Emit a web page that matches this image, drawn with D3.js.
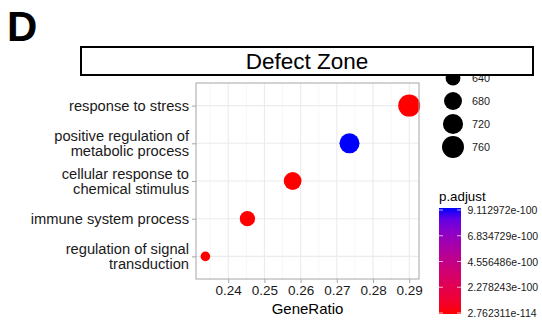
<!DOCTYPE html>
<html>
<head>
<meta charset="utf-8">
<script src="https://cdn.jsdelivr.net/npm/d3@7"></script>
<style>
  body { margin: 0; background: #fff; }
  svg { font-family: "Liberation Sans", Arial, sans-serif; }
</style>
</head>
<body>
<svg id="chart"></svg>
<script>
// GO terms, bottom to top as drawn
let terms = [
    "regulation of signal\ntransduction",
    "immune system process",
    "cellular response to\nchemical stimulus",
    "positive regulation of\nmetabolic process",
    "response to stress"
];
let geneRatio = [0.2337, 0.2453, 0.2578, 0.2735, 0.2900];
let counts = [613, 644, 677, 718, 761];
let pAdjust = [2.762311e-114, 4.1e-112, 1.3e-110, 9.112972e-100, 6.5e-113];

let xTicks = [0.24, 0.25, 0.26, 0.27, 0.28, 0.29];
let sizeBreaks = [640, 680, 720, 760];
let colorBreaks = [9.112972e-100, 6.834729e-100, 4.556486e-100, 2.278243e-100, 2.762311e-114];

let W = 542, H = 321;
let panel = {left: 196, right: 419, top: 83, bottom: 279};

let svg = d3.select("#chart")
    .attr("width", W)
    .attr("height", H);

let x = d3.scaleLinear()
    .domain([0.2311, 0.2927])
    .range([panel.left, panel.right]);

let y = d3.scalePoint()
    .domain(terms)
    .range([panel.bottom, panel.top])
    .padding(0.6);

let pMin = d3.min(pAdjust), pMax = d3.max(pAdjust);
let color = d3.scaleLinear()
    .domain([pMin, pMax])
    .range(["#ff0000", "#0000ff"])
    .interpolate(d3.interpolateLab);

// ggplot-style area scale: radius grows with sqrt of rescaled count
let cMin = d3.min(counts), cMax = d3.max(counts);
let rescale = d3.scaleLinear().domain([cMin, cMax]).range([0, 1]).clamp(true);
let radius = d3.scaleLinear().domain([0, 1]).range([4.8, 11]);
function r(c) { return radius(Math.sqrt(rescale(c))); }

// panel grid
let minorTicks = d3.range(0.235, 0.2927, 0.01);
svg.append("g").selectAll("line")
    .data(minorTicks)
    .enter().append("line")
    .attr("x1", d => x(d)).attr("x2", d => x(d))
    .attr("y1", panel.top).attr("y2", panel.bottom)
    .attr("stroke", "#f2f2f2").attr("stroke-width", 0.6);
svg.append("g").selectAll("line")
    .data(xTicks)
    .enter().append("line")
    .attr("x1", d => x(d)).attr("x2", d => x(d))
    .attr("y1", panel.top).attr("y2", panel.bottom)
    .attr("stroke", "#ebebeb").attr("stroke-width", 1.1);
svg.append("g").selectAll("line")
    .data(terms)
    .enter().append("line")
    .attr("x1", panel.left).attr("x2", panel.right)
    .attr("y1", d => y(d)).attr("y2", d => y(d))
    .attr("stroke", "#ebebeb").attr("stroke-width", 1.1);

// points
svg.append("g").selectAll("circle")
    .data(terms.map((t, i) => ({term: t, ratio: geneRatio[i], count: counts[i], p: pAdjust[i]})))
    .enter().append("circle")
    .attr("cx", d => x(d.ratio))
    .attr("cy", d => y(d.term))
    .attr("r", d => r(d.count))
    .attr("fill", d => color(d.p));

svg.append("rect")
    .attr("x", panel.left).attr("y", panel.top)
    .attr("width", panel.right - panel.left)
    .attr("height", panel.bottom - panel.top)
    .attr("fill", "none")
    .attr("stroke", "#a6a6a6").attr("stroke-width", 1);

// x axis
let xAxis = svg.append("g")
    .attr("transform", "translate(0," + panel.bottom + ")")
    .call(d3.axisBottom(x).tickValues(xTicks).tickFormat(d3.format(".2f")).tickSize(4).tickPadding(2));
xAxis.select(".domain").remove();
xAxis.selectAll("line").attr("stroke", "#a6a6a6");
xAxis.selectAll("text").attr("font-size", 13.5).attr("fill", "#1a1a1a")
    .attr("font-family", "Liberation Sans, Arial, sans-serif");

svg.append("text")
    .attr("x", (panel.left + panel.right) / 2)
    .attr("y", 314)
    .attr("text-anchor", "middle")
    .attr("font-size", 15)
    .attr("fill", "#000")
    .text("GeneRatio");

// y axis with wrapped labels
let yAxis = svg.append("g")
    .attr("transform", "translate(" + panel.left + ",0)")
    .call(d3.axisLeft(y).tickSize(4).tickFormat(""));
yAxis.select(".domain").remove();
yAxis.selectAll("line").attr("stroke", "#a6a6a6");

let yLab = svg.append("g").selectAll("text")
    .data(terms)
    .enter().append("text")
    .attr("x", 189)
    .attr("y", d => y(d))
    .attr("text-anchor", "end")
    .attr("font-size", 14.7)
    .attr("fill", "#1a1a1a");
yLab.each(function (d) {
    let lines = d.split("\n");
    let t = d3.select(this);
    lines.forEach((ln, i) => {
        t.append("tspan")
            .attr("x", 189)
            .attr("dy", i === 0 ? (5.5 - (lines.length - 1) * 7.5) : 15)
            .text(ln);
    });
});

// size legend
let sizeLeg = svg.append("g");
sizeBreaks.forEach((v, i) => {
    let cy = 78 + i * 23;
    sizeLeg.append("circle")
        .attr("cx", 453).attr("cy", cy)
        .attr("r", r(v))
        .attr("fill", "#000");
    sizeLeg.append("text")
        .attr("x", 472).attr("y", cy + 4)
        .attr("font-size", 10.8)
        .attr("fill", "#1a1a1a")
        .text(v);
});

// colour bar legend
let bar = {x: 439, w: 22, top: 208, bottom: 314};
let defs = svg.append("defs");
let grad = defs.append("linearGradient")
    .attr("id", "padj")
    .attr("x1", "0%").attr("y1", "100%")
    .attr("x2", "0%").attr("y2", "0%");
d3.range(0, 1.0001, 0.1).forEach(t => {
    grad.append("stop")
        .attr("offset", (t * 100) + "%")
        .attr("stop-color", color(pMin + t * (pMax - pMin)));
});
svg.append("text")
    .attr("x", bar.x).attr("y", 201)
    .attr("font-size", 13.3)
    .attr("fill", "#000")
    .text("p.adjust");
svg.append("rect")
    .attr("x", bar.x).attr("y", bar.top)
    .attr("width", bar.w).attr("height", bar.bottom - bar.top)
    .attr("fill", "url(#padj)");

let barY = d3.scaleLinear()
    .domain([pMin, pMax])
    .range([bar.bottom - 1, bar.top + 2]);
let cb = svg.append("g");
colorBreaks.forEach(v => {
    let yy = barY(v);
    cb.append("line")
        .attr("x1", bar.x).attr("x2", bar.x + 4)
        .attr("y1", yy).attr("y2", yy)
        .attr("stroke", "#fff").attr("stroke-opacity", 0.7);
    cb.append("line")
        .attr("x1", bar.x + bar.w - 4).attr("x2", bar.x + bar.w)
        .attr("y1", yy).attr("y2", yy)
        .attr("stroke", "#fff").attr("stroke-opacity", 0.7);
    cb.append("text")
        .attr("x", 467.5).attr("y", yy + 4)
        .attr("font-size", 10.5)
        .attr("fill", "#1a1a1a")
        .text(v.toExponential(6));
});

// strip title box, drawn over the top of the size legend
svg.append("rect")
    .attr("x", 81).attr("y", 47)
    .attr("width", 452).attr("height", 28)
    .attr("fill", "#fff")
    .attr("stroke", "#000").attr("stroke-width", 2);
svg.append("text")
    .attr("x", 307).attr("y", 68.5)
    .attr("text-anchor", "middle")
    .attr("font-size", 22.5)
    .attr("fill", "#000")
    .text("Defect Zone");

// panel letter
svg.append("text")
    .attr("x", 7).attr("y", 41)
    .attr("font-size", 42)
    .attr("font-weight", "bold")
    .attr("fill", "#000")
    .text("D");
</script>
</body>
</html>
